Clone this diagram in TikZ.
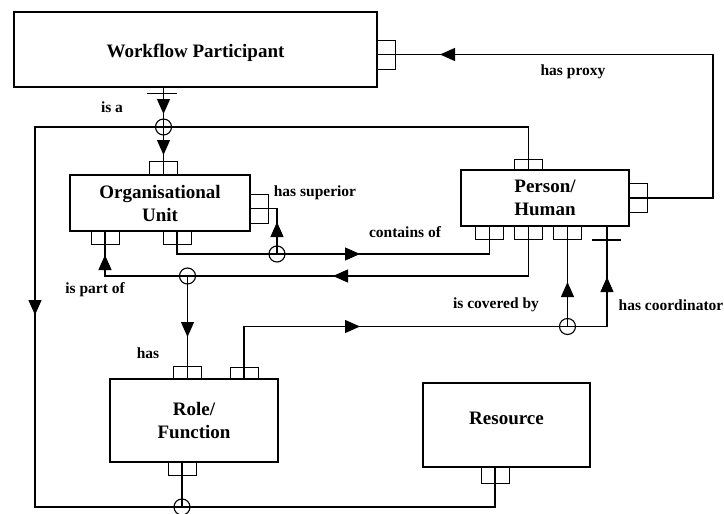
\documentclass[tikz,border=0pt]{standalone}
\usepackage{fontspec}
\setmainfont{Liberation Serif}
\usetikzlibrary{arrows.meta,calc}
\begin{document}
\begin{tikzpicture}[x=1pt,y=-1pt,
  line width=1.1pt,
  entity/.style={draw, inner sep=0pt, align=center,
    font=\fontsize{19}{23}\selectfont\bfseries},
  hport/.style={draw, line width=1pt, minimum width=28pt, minimum height=13pt, inner sep=0pt},
  vport/.style={draw, line width=1pt, minimum width=18pt, minimum height=29pt, inner sep=0pt},
  junction/.style={draw, circle, minimum size=16pt, inner sep=0pt},
  lbl/.style={font=\fontsize{15.5}{18}\selectfont\bfseries, inner sep=0pt},
  arr/.style={-{Triangle[length=15pt,width=13pt]}},
]
\useasboundingbox (0,0) rectangle (724,514);

% entities
\node[entity, minimum width=363pt, minimum height=75pt, text height=21pt, text depth=4.2pt] (wp) at (195.5,49.5) {Workflow Participant};
\node[entity, minimum width=180pt, minimum height=56pt] (ou) at (160,203) {Organisational\\Unit};
\node[entity, minimum width=168pt, minimum height=56pt] (ph) at (545,198) {Person/\\Human};
\node[entity, minimum width=168pt, minimum height=83pt] (rf) at (194,420.5) {Role/\\Function};
\node[entity, minimum width=167pt, minimum height=84pt, text height=13.5pt, text depth=15pt] (rs) at (506.5,425) {Resource};

% ports
\node[vport, anchor=west] (wpR) at (377,54.5) {};
\node[hport, anchor=south] (ouT) at (163.5,175) {};
\node[vport, anchor=west] (ouR) at (250,208.5) {};
\node[hport, anchor=north] (ouB1) at (105,231) {};
\node[hport, anchor=north] (ouB2) at (177,231) {};
\node[hport, anchor=south, minimum height=10pt] (phT) at (528.5,170) {};
\node[vport, anchor=west] (phR) at (629,198) {};
\node[hport, anchor=north] (phB1) at (489.5,226) {};
\node[hport, anchor=north] (phB2) at (528.5,226) {};
\node[hport, anchor=north] (phB3) at (567.5,226) {};
\node[hport, anchor=south, minimum height=12pt] (rfT1) at (187.5,379) {};
\node[hport, anchor=south, minimum height=11pt] (rfT2) at (244,379) {};
\node[hport, anchor=north] (rfB) at (182,462) {};
\node[hport, anchor=north, minimum height=16pt] (rsB) at (495,467) {};

% junctions
\node[junction] (jA) at (163.5,127) {};
\node[junction] (jB) at (277,254) {};
\node[junction] (jC) at (187.5,276) {};
\node[junction] (jD) at (567.5,326.5) {};
\node[junction] (jE) at (182,507) {};

% corners
\coordinate (tl) at (35,127);
\coordinate (bl) at (35,507);
\coordinate (pr) at (713,0);
\coordinate (cr) at (607,0);

% is a
\draw (ouT |- wp.south) -- (ou.north -| ouT);
\draw ($(ouT |- wp.south)+(-17,6)$) -- ++(30,0);
\draw[arr] (163.5,98) -- (163.5,114);
\draw[arr] (163.5,140) -- (163.5,155);
\draw (ph.north -| phT) -- (phT |- jA) -- (tl) -- (bl) -- (rsB |- bl) -- (rs.south -| rsB);
\draw[arr] (35,300) -- (35,315);
\draw (rf.south -| rfB) -- (jE.center);

% has proxy
\draw (wpR.west) -- (wpR -| pr) -- (phR -| pr) -- (phR.west);
\draw[arr] (456,54.5) -- (440,54.5);

% has superior
\draw (ouR.west) -- (jB |- ouR) -- (jB.center);
\draw[arr] (277,237) -- (277,222);

% contains of
\draw (ouB2.north) -- (ouB2 |- jB) -- (phB1 |- jB) -- (phB1.north);
\draw[arr] (345,254) -- (360,254);

% is part of / has
\draw (phB2.north) -- (phB2 |- jC) -- (ouB1 |- jC) -- (ouB1.north);
\draw[arr] (348,276) -- (333,276);
\draw[arr] (105,270) -- (105,255);
\draw (jC.center) -- (rf.north -| rfT1);
\draw[arr] (187.5,322) -- (187.5,337);

% has coordinator / is covered by
\draw (rf.north -| rfT2) -- (rfT2 |- jD) -- (cr |- jD) -- (cr |- ph.south);
\draw ($(cr |- phB3.south)+(-15,0)$) -- ++(29,0);
\draw[arr] (344,326.5) -- (360,326.5);
\draw[arr] (607,291) -- (607,277);
\draw (jD.center) -- (phB3.north);
\draw[arr] (567.5,296) -- (567.5,282);

% labels
\node[lbl] (lIsA) at (112,107) {is a};
\node[lbl] (lProxy) at (573,72) {has proxy};
\node[lbl] (lSup) at (315,193) {has superior};
\node[lbl] (lCont) at (405,232) {contains of};
\node[lbl] (lPart) at (95,290) {is part of};
\node[lbl] (lHas) at (148,353) {has};
\node[lbl] (lCov) at (496,305) {is covered by};
\node[lbl] (lCoord) at (671,305) {has coordinator};
\end{tikzpicture}
\end{document}
